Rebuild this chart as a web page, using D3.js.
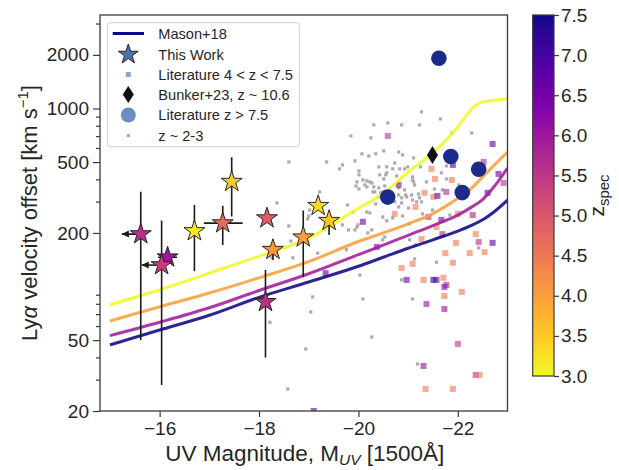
<!DOCTYPE html>
<html><head><meta charset="utf-8">
<script src="https://cdn.jsdelivr.net/npm/d3@7"></script>
<style>
body{margin:0;background:#fff}
text{font-family:"Liberation Sans",Arial,Helvetica,sans-serif;fill:#262626}
</style>
</head><body><svg id="c" width="619" height="470"></svg>
<script>
// ---------- data ----------
const xTicks = [-16, -18, -20, -22];
const yTicks = [20, 50, 200, 500, 1000, 2000];
const yMinor = [30, 40, 60, 70, 80, 90, 300, 400, 600, 700, 800, 900, 3000];
const cbTicks = [3.0, 3.5, 4.0, 4.5, 5.0, 5.5, 6.0, 6.5, 7.0, 7.5];

// Mason+18 model curves
const masonM  = [-15, -16, -17, -18, -19, -20, -20.5, -21, -21.5, -22, -22.3, -22.5, -22.7, -23];
const masonZ  = [3.0, 4.0, 5.9, 7.5];
const masonV3 = [79, 96, 119, 148, 187, 275, 333, 440, 563, 788, 1008, 1090, 1110, 1135];
const masonV4 = [64, 77, 92, 112, 138, 179, 200, 225, 257, 313, 362, 413, 470, 570];
const masonV6 = [53, 63, 76, 95, 118, 151, 171, 194, 220, 252, 282, 308, 355, 463];
const masonV7 = [47, 57, 69, 87, 106, 130, 146, 164, 183, 205, 222, 237, 259, 306];

// This work (stars)
const starM      = [-15.62, -16.16, -16.04, -16.70, -17.27, -17.45, -18.16, -18.28, -18.13, -18.89, -19.19, -19.41];
const starV      = [197, 146, 132, 205, 227, 388, 242, 161, 82, 189, 284, 234];
const starZ      = [5.6, 6.0, 5.4, 3.2, 4.7, 3.5, 4.9, 4.1, 5.6, 4.0, 3.35, 3.55];
const starVlo    = [50, 135, 28, 122, 171, 247, 242, 141, 40, 113, 284, 195];
const starVhi    = [341, 160, 235, 287, 284, 532, 242, 161, 124, 267, 284, 234];
const starMfaint = [-15.24, -15.97, -15.64, -16.70, -16.89, -17.45, -18.16, -18.28, -18.13, -18.89, -19.19, -19.41];
const starMbright= [-15.62, -16.35, -16.04, -16.70, -17.67, -17.45, -18.16, -18.28, -18.13, -18.89, -19.19, -19.41];
const starLimit  = [1, 0, 1, 0, 0, 0, 0, 0, 0, 0, 0, 0];

// Literature z > 7.5
const hizM = [-20.59, -21.62, -21.86, -22.42, -22.09];
const hizV = [318, 1916, 537, 456, 337];

// Bunker+23
const bunkerM = [-21.49];
const bunkerV = [548];

// Literature 4 < z < 7.5
const litM = [-20.59,-22.70,-21.90,-22.52,-21.47,-21.54,-21.88,-22.82,-22.92,-20.81,-21.33,-21.51,-21.77,-21.59,-22.60,-21.15,-21.41,-21.67,-22.00,-22.30,-20.73,-21.57,-21.69,-22.36,-21.27,-20.09,-20.37,-19.34,-22.42,-22.70,-22.54,-22.24,-21.75,-21.96,-21.90,-21.09,-20.87,-20.97,-21.31,-21.51,-21.57,-21.71,-21.77,-21.73,-21.73,-22.08,-21.37,-21.73,-22.00,-21.31,-22.36,-22.44,-21.35,-21.90,-19.10];
const litV = [701,632,482,501,458,402,397,429,382,372,336,319,340,323,336,280,246,237,256,252,256,216,197,197,185,231,167,119,178,176,156,154,154,176,136,134,127,109,109,109,109,112,102,99.5,88.5,93.3,79.8,74.8,47.6,35.8,31.9,31.9,26.6,26.6,20];
const litZ = [5.5,6.8,6.8,5.7,4.5,4.5,4.5,6.6,5.6,6.0,4.5,4.5,5.6,6.6,6.8,4.5,5.5,6.5,4.5,5.8,4.5,4.5,5.6,4.5,4.5,6.6,6.2,6.6,5.6,6.8,4.5,4.5,4.5,4.5,4.5,4.5,4.5,6.6,4.5,7.3,6.8,4.5,5.6,6.2,4.5,4.5,6.0,6.0,5.5,6.0,5.5,4.5,4.5,4.5,6.8];

// z ~ 2-3
const lowzM = [-18.60,-19.36,-18.36,-18.60,-18.64,-18.68,-18.22,-18.58,-19.04,-18.94,-19.08,-19.22,-19.02,-18.98,-18.98,-19.18,-18.84,-19.68,-19.62,-19.78,-19.76,-19.68,-19.80,-19.97,-19.85,-20.25,-20.31,-20.07,-20.21,-20.35,-20.51,-19.93,-20.01,-20.01,-20.09,-19.97,-19.95,-20.01,-20.13,-20.17,-20.23,-20.27,-20.31,-20.33,-20.45,-20.41,-20.43,-20.57,-20.57,-20.69,-20.73,-20.77,-20.81,-20.89,-21.11,-20.55,-20.51,-20.83,-20.93,-20.99,-21.25,-21.67,-21.77,-21.09,-21.11,-21.37,-21.77,-21.53,-21.69,-22.02,-20.79,-20.93,-21.21,-20.81,-20.97,-21.09,-20.87,-20.81,-21.01,-21.27,-21.49,-20.69,-20.57,-20.89,-21.03,-21.29,-21.84,-21.27,-21.65,-20.59,-20.87,-21.23,-21.88,-22.28,-20.17,-20.29,-20.41,-20.53,-20.81,-21.09,-21.13,-20.49,-20.95,-21.07,-20.41,-20.73,-20.87,-20.35,-21.17,-21.23,-20.17,-20.23,-20.49,-20.53,-19.89,-19.99,-19.93,-20.27,-20.03,-20.09,-20.27,-21.19,-21.09,-20.19,-21.13,-21.57,-22.42,-20.87,-20.49,-21.03,-21.15,-18.26,-19.00];
const lowzV = [501,501,295,219,180,145,63,26.6,72,44.6,87.4,340,269,240,178,154,187,482,458,287,161,222,208,216,701,684,809,556,541,556,578,508,446,424,397,387,367,353,372,392,387,382,363,340,336,470,424,470,435,458,494,418,570,548,528,424,402,458,458,470,470,435,476,413,387,387,402,353,349,372,382,349,331,327,319,306,295,280,276,299,269,243,234,249,225,256,252,957,874,830,809,809,729,729,363,340,358,367,358,397,372,340,327,327,319,299,315,291,299,315,262,259,246,190,262,222,208,208,116,85.2,52.1,36.7,85.2,200,143,137,165,109,183,183,171,145,249];

const legendLabels = ["Mason+18", "This Work", "Literature 4 < z < 7.5", "Bunker+23, z ~ 10.6", "Literature z > 7.5", "z ~ 2-3"];

// ---------- scales ----------
const svg = d3.select("#c");
const L = 100, R = 507.5, T = 15, B = 411;
const x = d3.scaleLinear().domain([-14.8, -23]).range([L, R]);
const y = d3.scaleLog().domain([20, 3350]).range([B, T]);
const zcol = z => d3.interpolatePlasma(1 - (Math.min(Math.max(z, 3), 7.5) - 3) / 4.5);

function starPath(R0) {
  const r = R0 * 0.381966, pts = [];
  for (let i = 0; i < 10; i++) {
    const a = -Math.PI / 2 + i * Math.PI / 5;
    const rr = i % 2 === 0 ? R0 : r;
    pts.push([rr * Math.cos(a), rr * Math.sin(a)]);
  }
  return "M" + pts.map(p => p[0].toFixed(2) + "," + p[1].toFixed(2)).join("L") + "Z";
}
const diamondPath = (w, h) => `M0,${-h/2}L${w/2},0L0,${h/2}L${-w/2},0Z`;

const clipId = "plotclip";
svg.append("defs").append("clipPath").attr("id", clipId)
  .append("rect").attr("x", L).attr("y", T - 10).attr("width", R - L).attr("height", B - T + 10);

const plot = svg.append("g").attr("clip-path", `url(#${clipId})`);

// gray z~2-3
plot.append("g").selectAll("rect").data(lowzM.map((m, i) => [m, lowzV[i]])).join("rect")
  .attr("x", d => x(d[0]) - 1.6).attr("y", d => y(d[1]) - 1.6)
  .attr("width", 3.2).attr("height", 3.2).attr("fill", "#acacac");

// literature squares
plot.append("g").selectAll("rect").data(litM.map((m, i) => [m, litV[i], litZ[i]])).join("rect")
  .attr("x", d => x(d[0]) - 3).attr("y", d => y(d[1]) - 3)
  .attr("width", 6).attr("height", 6).attr("fill", d => zcol(d[2])).attr("opacity", 0.62);

// Mason lines
const masonSeries = [masonV3, masonV4, masonV6, masonV7];
const line = d3.line().x(d => x(d[0])).y(d => y(d[1])).curve(d3.curveMonotoneX);
masonSeries.forEach((vals, k) => {
  plot.append("path").datum(masonM.map((m, i) => [m, vals[i]]))
    .attr("d", line).attr("fill", "none")
    .attr("stroke", zcol(masonZ[k])).attr("stroke-width", 3).attr("opacity", 0.88);
});

// error bars
const eb = plot.append("g").attr("stroke", "#1a1a1a").attr("stroke-width", 1.6);
starM.forEach((m, i) => {
  if (starVhi[i] !== starVlo[i]) {
    eb.append("line").attr("x1", x(m)).attr("x2", x(m)).attr("y1", y(starVhi[i])).attr("y2", y(starVlo[i]));
  }
  if (starMfaint[i] !== starMbright[i]) {
    eb.append("line").attr("x1", x(starMfaint[i])).attr("x2", x(starMbright[i])).attr("y1", y(starV[i])).attr("y2", y(starV[i]));
  }
  if (starLimit[i]) {
    const ax = x(starMfaint[i]), ay = y(starV[i]);
    eb.append("path").attr("d", `M${ax},${ay}L${ax + 7},${ay - 3.5}L${ax + 7},${ay + 3.5}Z`).attr("fill", "#1a1a1a").attr("stroke", "none");
  }
});

// stars
plot.append("g").selectAll("path").data(starM.map((m, i) => [m, starV[i], starZ[i]])).join("path")
  .attr("d", starPath(11))
  .attr("transform", d => `translate(${x(d[0])},${y(d[1])})`)
  .attr("fill", d => zcol(d[2])).attr("stroke", "#262626").attr("stroke-width", 1);

// hi-z circles
plot.append("g").selectAll("circle").data(hizM.map((m, i) => [m, hizV[i]])).join("circle")
  .attr("cx", d => x(d[0])).attr("cy", d => y(d[1])).attr("r", 7.8).attr("fill", "#1c2a8c");

// Bunker diamond
plot.append("g").selectAll("path").data(bunkerM.map((m, i) => [m, bunkerV[i]])).join("path")
  .attr("d", diamondPath(11, 18))
  .attr("transform", d => `translate(${x(d[0])},${y(d[1])})`).attr("fill", "#111");

// ---------- axes ----------
const fmtX = d => (d < 0 ? "\u2212" : "") + Math.abs(d);
const gx = svg.append("g").attr("transform", `translate(0,${B})`)
  .call(d3.axisBottom(x).tickValues(xTicks).tickSize(6).tickPadding(5).tickFormat(fmtX));
const gy = svg.append("g").attr("transform", `translate(${L},0)`)
  .call(d3.axisLeft(y).tickValues(yTicks).tickSize(7).tickPadding(4).tickFormat(d => String(d)));
const gym = svg.append("g").attr("transform", `translate(${L},0)`)
  .call(d3.axisLeft(y).tickValues(yMinor).tickSize(4).tickFormat(""));
[gx, gy, gym].forEach(g => {
  g.select(".domain").remove();
  g.selectAll("line").attr("stroke", "#3a3a3a").attr("stroke-width", 1.2);
  g.selectAll("text").attr("font-size", 19).attr("fill", "#262626")
    .attr("font-family", '"Liberation Sans",Arial,sans-serif');
});

svg.append("rect").attr("x", L).attr("y", T).attr("width", R - L).attr("height", B - T)
  .attr("fill", "none").attr("stroke", "#3a3a3a").attr("stroke-width", 1.3);

// axis labels
const xl = svg.append("text").attr("x", (L + R) / 2 + 1).attr("y", 461).attr("text-anchor", "middle").attr("font-size", 22.5);
xl.append("tspan").text("UV Magnitude, M");
xl.append("tspan").attr("font-size", 15.5).attr("font-style", "italic").attr("dy", 4).text("UV");
xl.append("tspan").attr("dy", -4).text(" [1500Å]");

const yl = svg.append("text").attr("transform", `translate(37,${(T + B) / 2}) rotate(-90)`)
  .attr("text-anchor", "middle").attr("font-size", 22);
yl.append("tspan").text("Ly");
yl.append("tspan").attr("font-style", "italic").text("α");
yl.append("tspan").text(" velocity offset [km s");
yl.append("tspan").attr("font-size", 15).attr("dy", -9).text("\u22121");
yl.append("tspan").attr("dy", 9).text("]");

// ---------- legend ----------
const lg = svg.append("g");
lg.append("rect").attr("x", 107.3).attr("y", 22.7).attr("width", 192).attr("height", 124).attr("rx", 3)
  .attr("fill", "#fff").attr("fill-opacity", 0.85).attr("stroke", "#cfcfcf").attr("stroke-width", 1);
const ly = [33.5, 54.5, 74.5, 94.5, 115, 135.5];
const mx = 128.3;
lg.append("line").attr("x1", 112.7).attr("x2", 144).attr("y1", ly[0]).attr("y2", ly[0])
  .attr("stroke", zcol(7.5)).attr("stroke-width", 3);
lg.append("path").attr("d", starPath(10.5)).attr("transform", `translate(${mx},${ly[1]})`)
  .attr("fill", "#4c72b0").attr("stroke", "#262626").attr("stroke-width", 1);
lg.append("rect").attr("x", mx - 2.5).attr("y", ly[2] - 2.5).attr("width", 5).attr("height", 5).attr("fill", "#8fa6d2");
lg.append("path").attr("d", diamondPath(11, 17)).attr("transform", `translate(${mx},${ly[3]})`).attr("fill", "#111");
lg.append("circle").attr("cx", mx).attr("cy", ly[4]).attr("r", 7.5).attr("fill", "#6c8dc4");
lg.append("rect").attr("x", mx - 1.6).attr("y", ly[5] - 1.6).attr("width", 3.2).attr("height", 3.2).attr("fill", "#a8a8a8");
lg.selectAll("text.lab").data(legendLabels).join("text").attr("class", "lab")
  .attr("x", 158.3).attr("y", (d, i) => ly[i]).attr("dy", "0.36em").attr("font-size", 14.6).text(d => d);

// ---------- colorbar ----------
const cbX = 532.7, cbW = 21.3, cbT = 15, cbB = 376;
const grad = svg.select("defs").append("linearGradient").attr("id", "plasmaGrad")
  .attr("x1", 0).attr("y1", 1).attr("x2", 0).attr("y2", 0);
d3.range(0, 41).forEach(i => {
  grad.append("stop").attr("offset", i / 40).attr("stop-color", zcol(3 + 4.5 * i / 40));
});
svg.append("rect").attr("x", cbX).attr("y", cbT).attr("width", cbW).attr("height", cbB - cbT)
  .attr("fill", "url(#plasmaGrad)").attr("stroke", "#3a3a3a").attr("stroke-width", 1.2);
const cs = d3.scaleLinear().domain([3, 7.5]).range([cbB, cbT]);
const gc = svg.append("g").attr("transform", `translate(${cbX + cbW},0)`)
  .call(d3.axisRight(cs).tickValues(cbTicks).tickSize(5).tickPadding(2).tickFormat(d3.format(".1f")));
gc.select(".domain").remove();
gc.selectAll("line").attr("stroke", "#3a3a3a").attr("stroke-width", 1.2);
gc.selectAll("text").attr("font-size", 19).attr("fill", "#262626")
  .attr("font-family", '"Liberation Sans",Arial,sans-serif');

const cl = svg.append("text").attr("transform", `translate(604,${(cbT + cbB) / 2}) rotate(-90)`)
  .attr("text-anchor", "middle").attr("font-size", 21);
cl.append("tspan").text("z");
cl.append("tspan").attr("font-size", 15).attr("dy", 5).text("spec");
</script></body></html>
